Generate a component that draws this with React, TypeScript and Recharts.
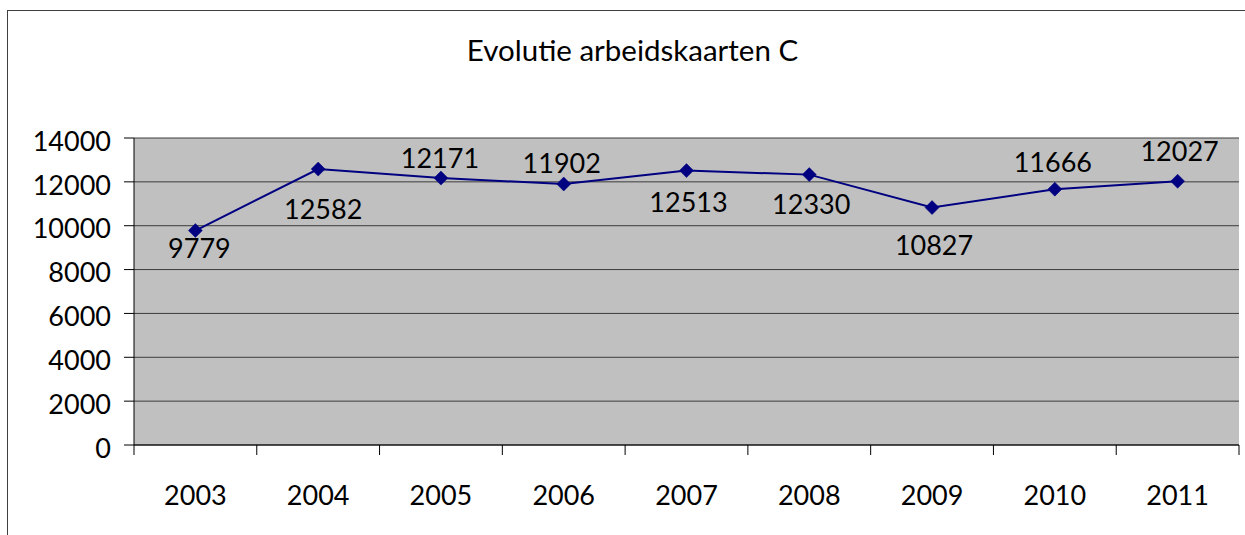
import React from 'react';
import { LineChart, Line, XAxis, YAxis, CartesianGrid, LabelList } from 'recharts';

const years = ['2003', '2004', '2005', '2006', '2007', '2008', '2009', '2010', '2011'];
const values = [9779, 12582, 12171, 11902, 12513, 12330, 10827, 11666, 12027];
const yTicks = [0, 2000, 4000, 6000, 8000, 10000, 12000, 14000];

// label placement offsets (style only), per point
const labelDx = [4, 5, -1, -2, 2, 2, 2, -2, 2];
const labelDy = [18, 40, -20, -21, 32, 30, 38, -27, -30];

const data = years.map((y, i) => ({ year: y, value: values[i] }));

const FONT = 'Lato, "Open Sans", sans-serif';
const FS = 27;
const X_TICK_MARGIN = 37;

const Diamond = (props: any) => {
  const { cx, cy } = props;
  if (cx == null || cy == null) return null;
  const r = 7;
  return (
    <polygon
      points={`${cx},${cy - r} ${cx + r},${cy} ${cx},${cy + r} ${cx - r},${cy}`}
      fill="#000080"
      stroke="#000080"
      strokeWidth={0.5}
    />
  );
};

const renderLabel = (props: any) => {
  const { x, y, value, index } = props;
  return (
    <text
      x={x + labelDx[index]}
      y={y + labelDy[index] + FS * 0.36}
      textAnchor="middle"
      fill="#000"
      fontFamily={FONT}
      fontSize={FS}
    >
      {value}
    </text>
  );
};

const XTick = (props: any) => {
  const { x, y, payload, index, visibleTicksCount } = props;
  const half = payload && payload.offset ? payload.offset : 0;
  const axisY = y - X_TICK_MARGIN;
  const isLast = index === (visibleTicksCount ?? years.length) - 1;
  return (
    <g>
      <line x1={x - half} x2={x - half} y1={axisY} y2={axisY + 10} stroke="#000" />
      {isLast && <line x1={x + half} x2={x + half} y1={axisY} y2={axisY + 10} stroke="#000" />}
      <text x={x} y={y + 4 + FS * 0.72} textAnchor="middle" fill="#000" fontFamily={FONT} fontSize={FS}>
        {payload.value}
      </text>
    </g>
  );
};

const YTick = (props: any) => {
  const { x, y, payload } = props;
  return (
    <text x={x} y={y + FS * 0.36 + 3} textAnchor="end" fill="#000" fontFamily={FONT} fontSize={FS}>
      {payload.value}
    </text>
  );
};

export default function App() {
  return (
    <div style={{ position: 'absolute', left: 0, top: 0, width: 1245, height: 535, overflow: 'hidden', background: '#fff' }}>
      <div
        style={{
          position: 'absolute',
          left: 7,
          top: 10,
          width: 2000,
          height: 2000,
          borderLeft: '1px solid #3f3f3f',
          borderTop: '1px solid #3f3f3f',
        }}
      />
      <svg style={{ position: 'absolute', left: 0, top: 0 }} width={1245} height={100}>
        <text x={632.5} y={61} textAnchor="middle" fontFamily={FONT} fontSize={29.5} fill="#000">
          Evolutie arbeidskaarten C
        </text>
      </svg>
      <div style={{ position: 'absolute', left: 0, top: 0 }}>
        <LineChart width={1245} height={535} data={data} margin={{ top: 138, right: 6, bottom: 0, left: 0 }}>
          <CartesianGrid vertical={false} fill="#C0C0C0" fillOpacity={1} stroke="#3c3c3c" strokeOpacity={1} />
          <XAxis
            xAxisId="top"
            orientation="top"
            dataKey="year"
            scale="band"
            height={0}
            tick={false}
            tickLine={false}
            axisLine={{ stroke: '#8a8a8a', strokeWidth: 1 }}
          />
          <XAxis
            dataKey="year"
            scale="band"
            height={90}
            axisLine={{ stroke: '#000' }}
            tickLine={false}
            tickSize={0}
            tickMargin={X_TICK_MARGIN}
            tick={<XTick />}
            interval={0}
          />
          <YAxis
            domain={[0, 14000]}
            ticks={yTicks}
            width={134}
            tickSize={10}
            tickMargin={13}
            tickLine={{ stroke: '#000' }}
            axisLine={{ stroke: '#000' }}
            tick={<YTick />}
            interval={0}
          />
          <YAxis
            yAxisId="r"
            orientation="right"
            width={0}
            tick={false}
            tickLine={false}
            axisLine={{ stroke: '#8a8a8a' }}
          />
          <Line
            dataKey="value"
            stroke="#000080"
            strokeWidth={2}
            dot={<Diamond />}
            activeDot={false}
            isAnimationActive={false}
          >
            <LabelList dataKey="value" content={renderLabel} />
          </Line>
        </LineChart>
      </div>
    </div>
  );
}
